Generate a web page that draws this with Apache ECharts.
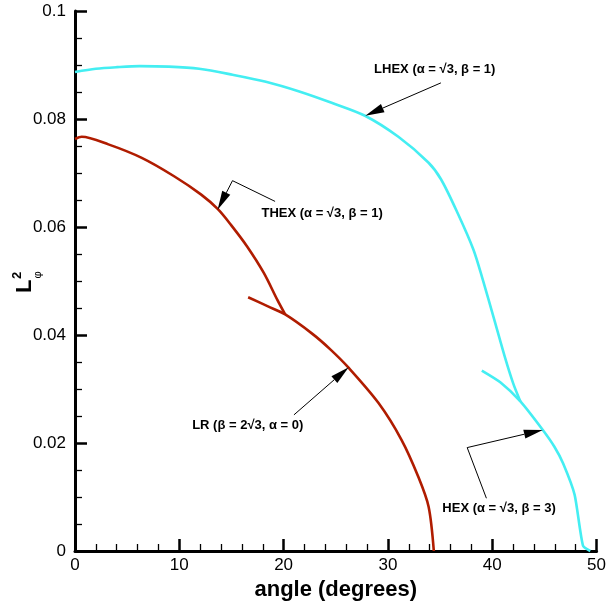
<!DOCTYPE html>
<html><head><meta charset="utf-8">
<script src="https://cdn.jsdelivr.net/npm/echarts@6/dist/echarts.min.js"></script>
<style>html,body{margin:0;padding:0;background:#fff}#c{width:609px;height:610px}</style>
</head><body><div id="c"></div><script>
// ---- data ----
const lhexX = [0, 2, 4, 6.2, 9, 11.9, 15.1, 18.3, 21.5, 24.6, 27.8, 31.0, 33.9, 35.1, 36.7, 38.2, 39.1, 40.2, 41.2, 42.0, 42.7];
const lhexY = [0.0887, 0.0893, 0.0896, 0.0898, 0.0897, 0.0893, 0.0882, 0.0869, 0.0851, 0.0830, 0.0806, 0.0767, 0.0719, 0.0688, 0.0625, 0.0558, 0.0502, 0.0428, 0.0360, 0.0311, 0.0277];
const hexX = [39.0, 40.8, 42.7, 44.85, 45.96, 46.8, 47.9, 48.7, 49.4];
const hexY = [0.0334, 0.0312, 0.0277, 0.0224, 0.0193, 0.0162, 0.0104, 0.0010, 0.0000];
const thexX = [0, 0.64, 3.2, 6.4, 9.5, 12.1, 13.7, 14.95, 16.5, 18.1, 19.4, 20.15];
const thexY = [0.0763, 0.0767, 0.0753, 0.0728, 0.0694, 0.0660, 0.0633, 0.0604, 0.0564, 0.0515, 0.0465, 0.0438];
const lrX = [16.6, 18.5, 20.15, 22.7, 24.5, 26.2, 29.1, 31.3, 32.9, 33.9, 34.4];
const lrY = [0.0470, 0.0453, 0.0438, 0.0403, 0.0373, 0.0340, 0.0274, 0.0206, 0.0138, 0.0082, 0.0000];

// annotation texts, anchor (data units) and leader paths ending at the arrow tip
const annNames = ['LHEX', 'THEX', 'LR', 'HEX'];
const annParams = [['α = √3', 'β = 1'], ['α = √3', 'β = 1'], ['β = 2√3', 'α = 0'], ['α = √3', 'β = 3']];
const annAnchor = [[34.49, 0.08916], [23.69, 0.06259], [16.56, 0.02323], [40.65, 0.00791]];
const annPaths = [
  [[35.08, 0.08669], [27.83, 0.08062]],
  [[19.18, 0.06474], [15.10, 0.06858], [13.67, 0.06320]],
  [[20.99, 0.02521], [26.24, 0.03405]],
  [[39.44, 0.00977], [37.60, 0.01915], [44.85, 0.02243]]
];

const CYAN = '#44eef2';
const RED = '#b01c00';
const FONT = '"Liberation Sans", Arial, Helvetica, sans-serif';

function zip(xs, ys) { return xs.map((x, i) => [x, ys[i]]); }

const chart = echarts.init(document.getElementById('c'), null, { renderer: 'canvas' });

const axisCommon = {
  type: 'value',
  axisLine: { show: true, onZero: false, lineStyle: { color: '#000', width: 3 } },
  axisTick: { show: true, inside: true, length: 12, lineStyle: { color: '#000', width: 2.5 } },
  minorTick: { show: true, length: 7, lineStyle: { color: '#000', width: 1.3 } },
  splitLine: { show: false },
  minorSplitLine: { show: false },
  axisLabel: { color: '#000', fontSize: 17, fontFamily: FONT }
};

function lineSeries(name, xs, ys, color, smooth) {
  return {
    name, type: 'line', data: zip(xs, ys), showSymbol: false, symbol: 'none',
    smooth: smooth, smoothMonotone: 'none',
    lineStyle: { color, width: 2.6 }, itemStyle: { color }, clip: false,
    animation: false, z: 3
  };
}

chart.setOption({
  animation: false,
  backgroundColor: '#fff',
  grid: { left: 75, right: 10, top: 11, bottom: 59, containLabel: false },
  xAxis: Object.assign({}, axisCommon, {
    min: 0, max: 50, interval: 10,
    minorTick: Object.assign({}, axisCommon.minorTick, { splitNumber: 5 }),
    axisLabel: Object.assign({}, axisCommon.axisLabel, { margin: 6 }),
    name: 'angle (degrees)', nameLocation: 'middle', nameGap: 25,
    nameTextStyle: { color: '#000', fontSize: 22, fontWeight: 'bold', fontFamily: FONT }
  }),
  yAxis: Object.assign({}, axisCommon, {
    min: 0, max: 0.1, interval: 0.02,
    minorTick: Object.assign({}, axisCommon.minorTick, { splitNumber: 4 }),
    axisLabel: Object.assign({}, axisCommon.axisLabel, { margin: 9 })
  }),
  series: [
    lineSeries('LHEX', lhexX, lhexY, CYAN, 0.3),
    lineSeries('HEX', hexX, hexY, CYAN, 0.2),
    lineSeries('THEX', thexX, thexY, RED, 0.3),
    lineSeries('LR', lrX, lrY, RED, 0.3)
  ]
});

function toPx(p) { return chart.convertToPixel({ gridIndex: 0 }, p); }

const graphics = [];
annPaths.forEach(path => {
  const pts = path.map(toPx);
  const n = pts.length;
  const tip = pts[n - 1], prev = pts[n - 2];
  const dx = tip[0] - prev[0], dy = tip[1] - prev[1];
  const L = Math.hypot(dx, dy);
  const ux = dx / L, uy = dy / L;
  const headLen = 19, hw = 4.5;
  const base = [tip[0] - ux * headLen, tip[1] - uy * headLen];
  graphics.push({ type: 'polyline', silent: true, z: 10,
    shape: { points: pts.slice(0, n - 1).concat([base]) },
    style: { stroke: '#000', lineWidth: 1, fill: null } });
  graphics.push({ type: 'polygon', silent: true, z: 10,
    shape: { points: [tip, [base[0] - uy * hw, base[1] + ux * hw], [base[0] + uy * hw, base[1] - ux * hw]] },
    style: { fill: '#000' } });
});

annNames.forEach((nm, i) => {
  const p = toPx(annAnchor[i]);
  const pr = annParams[i];
  graphics.push({ type: 'text', silent: true, z: 11, x: p[0], y: p[1],
    style: {
      text: '{b|' + nm + ' (' + pr[0] + ', ' + pr[1] + ')}',
      align: 'center', verticalAlign: 'middle',
      rich: { b: { fontFamily: FONT, fontSize: 13, fontWeight: 'bold', fill: '#000' } }
    } });
});

// rotated y-axis title  L²_φ
graphics.push({ type: 'group', x: 25, y: 293, rotation: Math.PI / 2, silent: true, children: [
  { type: 'text', x: 0, y: 0, style: { text: 'L', font: 'bold 22px ' + FONT, fill: '#000', align: 'left', verticalAlign: 'middle' } },
  { type: 'text', x: 14, y: -8, style: { text: '2', font: 'bold 13px ' + FONT, fill: '#000', align: 'left', verticalAlign: 'middle' } },
  { type: 'text', x: 14.5, y: 13, style: { text: 'φ', font: '11px ' + FONT, fill: '#000', align: 'left', verticalAlign: 'middle' } }
] });

chart.setOption({ graphic: graphics });
</script></body></html>
